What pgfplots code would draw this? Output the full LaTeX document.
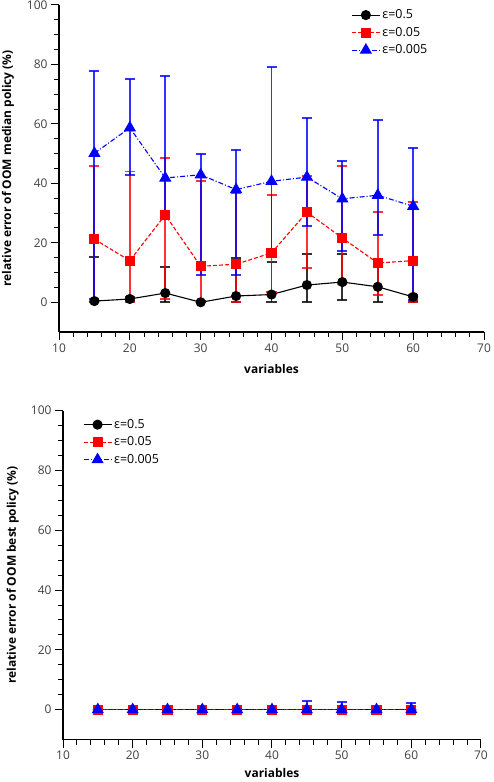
\documentclass[border=0pt]{standalone}
\usepackage{fontspec}
\setmainfont{Open Sans}
\usepackage{pgfplots}
\usepackage{pgfplotstable}
\pgfplotsset{compat=1.18}

% x  y  ep  em
\pgfplotstableread{
x  y     ep    em
15 0.4   14.7  0.4
20 1.1   0.8   0.8
25 3.1   8.9   3.0
30 0.0   0.5   0.0
35 2.1   12.8  2.1
40 2.6   10.8  2.6
45 5.8   10.4  5.8
50 6.8   9.4   6.1
55 5.2   7.0   5.2
60 1.8   0.7   1.6
}\medA
\pgfplotstableread{
x  y     ep    em
15 21.2  24.5  21.2
20 14.0  30.0  13.9
25 29.4  19.0  28.2
30 12.1  28.8  12.1
35 12.8  24.0  12.8
40 16.6  19.6  13.2
45 30.3  12.3  18.9
50 21.6  24.3  15.4
55 13.2  17.1  10.9
60 14.0  19.7  14.0
}\medB
\pgfplotstableread{
x  y     ep    em
15 50.1  27.8  48.9
20 58.7  16.4  15.8
25 41.8  34.3  11.9
30 42.9  7.1   33.6
35 37.9  13.3  28.7
40 40.7  38.3  22.8
45 42.1  19.9  16.3
50 34.8  12.8  17.7
55 36.0  25.2  13.4
60 32.3  19.5  31.6
}\medC
\pgfplotstableread{
x  y    ep   em
15 0.0  0.3  0.3
20 0.0  0.3  0.3
25 0.0  0.3  0.3
30 0.0  0.3  0.3
35 0.0  0.3  0.3
40 0.0  0.3  0.3
45 0.0  0.3  0.3
50 0.0  0.3  0.3
55 0.0  0.3  0.3
60 0.0  0.3  0.3
}\bestA
\pgfplotstableread{
x  y    ep   em
15 0.0  0.7  0.2
20 0.0  0.7  0.2
25 0.0  0.7  0.2
30 0.0  0.8  0.2
35 0.0  0.6  0.2
40 0.0  0.7  0.2
45 0.0  1.0  0.2
50 0.0  1.0  0.2
55 0.0  0.7  0.2
60 0.0  0.9  0.2
}\bestB
\pgfplotstableread{
x  y    ep   em
15 0.0  1.0  0.2
20 0.0  0.8  0.2
25 0.0  1.0  0.2
30 0.0  1.2  0.2
35 0.0  0.7  0.2
40 0.0  0.8  0.2
45 0.0  2.8  0.2
50 0.0  2.5  0.2
55 0.0  0.8  0.2
60 0.0  2.3  0.2
}\bestC

\pgfplotsset{
  oomaxis/.style={
    scale only axis,
    xmin=10, xmax=70, ymin=-10, ymax=100,
    axis x line=bottom, axis y line=left,
    axis line style={-, line width=1.2bp},
    xtick={10,20,...,70}, ytick={0,20,...,100},
    minor x tick num=4, minor y tick num=3,
    tick align=outside, major tick length=8bp, minor tick length=5bp,
    tick style={black, line width=1bp},
    tick label style={font=\fontsize{12}{14}\selectfont, text=black!75},
    /pgf/number format/assume math mode=true,
    xlabel=variables,
    every axis x label/.style={at={(axis description cs:0.5,-0.112)}, anchor=center,
      font=\bfseries\fontsize{12}{14}\selectfont},
    every axis y label/.style={at={(axis description cs:-0.12,0.5)}, rotate=90, anchor=center,
      font=\bfseries\fontsize{12}{14}\selectfont},
    legend style={draw=none, fill=none, font=\fontsize{12.5}{14}\selectfont,
      row sep=3bp, inner sep=1bp},
    legend cell align=left,
    legend image code/.code={\draw[mark repeat=2,mark phase=2]
      plot coordinates {(0bp,0bp) (14bp,0bp) (28bp,0bp)};},
    every axis plot/.append style={line width=1.1bp,
      error bars/y dir=both, error bars/y explicit,
      error bars/error bar style={solid, line width=1.9bp, opacity=0.8},
      error bars/error mark options={rotate=90, mark size=5bp, line width=1.9bp, solid, opacity=0.8}},
  },
  sA/.style={black, solid, mark=*, mark size=4.5bp, mark options={solid}},
  sB/.style={red, dash pattern=on 4bp off 2bp, mark=square*, mark size=4.5bp, mark options={solid}},
  sC/.style={blue, dash pattern=on 5bp off 2bp on 1bp off 2bp, mark=triangle*, mark size=6bp, mark options={solid}},
}

\begin{document}
\begin{tikzpicture}
\useasboundingbox (0bp,0bp) rectangle (494bp,782bp);

\begin{axis}[oomaxis, at={(59bp,450bp)}, anchor=south west, width=425bp, height=327bp,
  ylabel={relative error of OOM median policy (\%)},
  legend style={at={(rel axis cs:0.685,0.995)}, anchor=north west}]
\addplot[sA] table[x=x, y=y, y error plus=ep, y error minus=em] {\medA};
\addplot[sB] table[x=x, y=y, y error plus=ep, y error minus=em] {\medB};
\addplot[sC] table[x=x, y=y, y error plus=ep, y error minus=em] {\medC};
\legend{ε=0.5, ε=0.05, ε=0.005}
\end{axis}

\begin{axis}[oomaxis, at={(63bp,42.4bp)}, anchor=south west, width=418bp, height=329bp,
  ylabel={relative error of OOM best policy (\%)},
  every axis x label/.append style={at={(axis description cs:0.5,-0.103)}},
  legend style={at={(rel axis cs:0.045,0.983)}, anchor=north west}]
\addplot[sA] table[x=x, y=y, y error plus=ep, y error minus=em] {\bestA};
\addplot[sB] table[x=x, y=y, y error plus=ep, y error minus=em] {\bestB};
\addplot[sC] table[x=x, y=y, y error plus=ep, y error minus=em] {\bestC};
\legend{ε=0.5, ε=0.05, ε=0.005}
\end{axis}
\end{tikzpicture}
\end{document}
